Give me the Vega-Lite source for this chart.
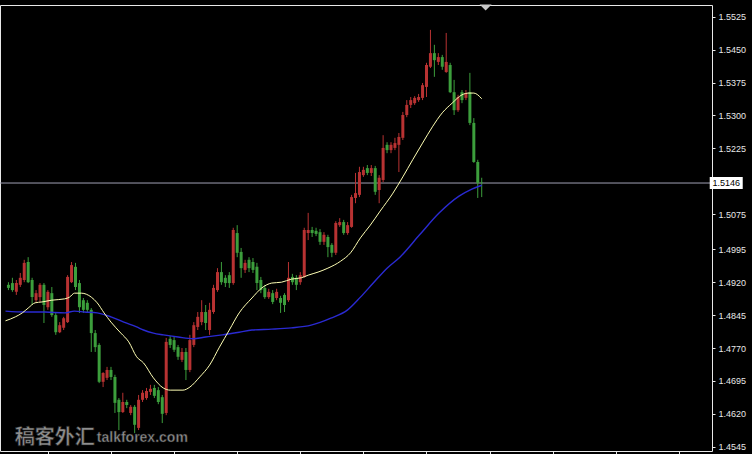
{
  "$schema": "https://vega.github.io/schema/vega-lite/v6.json",
  "width": 712,
  "height": 446,
  "autosize": {"type": "none"},
  "padding": {"left": 0, "top": 5, "right": 40, "bottom": 3},
  "background": "#000000",
  "config": {
    "view": {"stroke": "#e8e8e8", "strokeWidth": 1},
    "axis": {"grid": false, "domain": false, "labelOverlap": false},
    "axisY": {"labelOverlap": false, "labelColor": "#e8e8e8", "labelFont": "Liberation Sans", "labelFontSize": 9, "tickColor": "#e8e8e8", "tickSize": 3, "labelPadding": 3},
    "axisX": {"labels": false, "tickColor": "#e8e8e8", "tickSize": 3}
  },
  "datasets": {
    "candles": [
      {"i":0,"o":1.4914,"h":1.4920,"l":1.4902,"c":1.4907},
      {"i":1,"o":1.4918,"h":1.4930,"l":1.4898,"c":1.4902},
      {"i":2,"o":1.4898,"h":1.4925,"l":1.4891,"c":1.4918},
      {"i":3,"o":1.4914,"h":1.4941,"l":1.4909,"c":1.4930},
      {"i":4,"o":1.4925,"h":1.4971,"l":1.4920,"c":1.4964},
      {"i":5,"o":1.4966,"h":1.4977,"l":1.4918,"c":1.4920},
      {"i":6,"o":1.4925,"h":1.4930,"l":1.4868,"c":1.4886},
      {"i":7,"o":1.4879,"h":1.4902,"l":1.4875,"c":1.4895},
      {"i":8,"o":1.4886,"h":1.4918,"l":1.4875,"c":1.4914},
      {"i":9,"o":1.4914,"h":1.4918,"l":1.4827,"c":1.4868},
      {"i":10,"o":1.4863,"h":1.4902,"l":1.4857,"c":1.4898},
      {"i":11,"o":1.4895,"h":1.4909,"l":1.4841,"c":1.4845},
      {"i":12,"o":1.4845,"h":1.4850,"l":1.4800,"c":1.4806},
      {"i":13,"o":1.4806,"h":1.4829,"l":1.4804,"c":1.4822},
      {"i":14,"o":1.4816,"h":1.4841,"l":1.4811,"c":1.4838},
      {"i":15,"o":1.4829,"h":1.4936,"l":1.4827,"c":1.4932},
      {"i":16,"o":1.4920,"h":1.4966,"l":1.4918,"c":1.4959},
      {"i":17,"o":1.4955,"h":1.4964,"l":1.4902,"c":1.4909},
      {"i":18,"o":1.4918,"h":1.4925,"l":1.4850,"c":1.4863},
      {"i":19,"o":1.4879,"h":1.4884,"l":1.4850,"c":1.4857},
      {"i":20,"o":1.4873,"h":1.4879,"l":1.4850,"c":1.4857},
      {"i":21,"o":1.4857,"h":1.4861,"l":1.4761,"c":1.4804},
      {"i":22,"o":1.4804,"h":1.4811,"l":1.4761,"c":1.4772},
      {"i":23,"o":1.4777,"h":1.4781,"l":1.4690,"c":1.4693},
      {"i":24,"o":1.4693,"h":1.4715,"l":1.4681,"c":1.4713},
      {"i":25,"o":1.4702,"h":1.4727,"l":1.4697,"c":1.4720},
      {"i":26,"o":1.4720,"h":1.4727,"l":1.4697,"c":1.4704},
      {"i":27,"o":1.4704,"h":1.4709,"l":1.4622,"c":1.4645},
      {"i":28,"o":1.4652,"h":1.4656,"l":1.4583,"c":1.4624},
      {"i":29,"o":1.4624,"h":1.4668,"l":1.4622,"c":1.4647},
      {"i":30,"o":1.4647,"h":1.4652,"l":1.4633,"c":1.4640},
      {"i":31,"o":1.4622,"h":1.4640,"l":1.4617,"c":1.4636},
      {"i":32,"o":1.4636,"h":1.4640,"l":1.4576,"c":1.4595},
      {"i":33,"o":1.4588,"h":1.4663,"l":1.4583,"c":1.4652},
      {"i":34,"o":1.4652,"h":1.4674,"l":1.4647,"c":1.4668},
      {"i":35,"o":1.4656,"h":1.4679,"l":1.4652,"c":1.4672},
      {"i":36,"o":1.4670,"h":1.4686,"l":1.4663,"c":1.4677},
      {"i":37,"o":1.4679,"h":1.4686,"l":1.4656,"c":1.4661},
      {"i":38,"o":1.4674,"h":1.4681,"l":1.4642,"c":1.4647},
      {"i":39,"o":1.4658,"h":1.4663,"l":1.4599,"c":1.4620},
      {"i":40,"o":1.4622,"h":1.4793,"l":1.4617,"c":1.4784},
      {"i":41,"o":1.4791,"h":1.4797,"l":1.4770,"c":1.4777},
      {"i":42,"o":1.4788,"h":1.4795,"l":1.4761,"c":1.4766},
      {"i":43,"o":1.4772,"h":1.4777,"l":1.4743,"c":1.4750},
      {"i":44,"o":1.4743,"h":1.4770,"l":1.4738,"c":1.4761},
      {"i":45,"o":1.4761,"h":1.4770,"l":1.4697,"c":1.4720},
      {"i":46,"o":1.4720,"h":1.4800,"l":1.4715,"c":1.4788},
      {"i":47,"o":1.4777,"h":1.4829,"l":1.4772,"c":1.4822},
      {"i":48,"o":1.4818,"h":1.4852,"l":1.4811,"c":1.4841},
      {"i":49,"o":1.4829,"h":1.4879,"l":1.4822,"c":1.4852},
      {"i":50,"o":1.4852,"h":1.4868,"l":1.4811,"c":1.4827},
      {"i":51,"o":1.4811,"h":1.4873,"l":1.4800,"c":1.4857},
      {"i":52,"o":1.4852,"h":1.4914,"l":1.4848,"c":1.4907},
      {"i":53,"o":1.4902,"h":1.4952,"l":1.4898,"c":1.4943},
      {"i":54,"o":1.4943,"h":1.4966,"l":1.4914,"c":1.4920},
      {"i":55,"o":1.4930,"h":1.4936,"l":1.4909,"c":1.4918},
      {"i":56,"o":1.4936,"h":1.4943,"l":1.4907,"c":1.4918},
      {"i":57,"o":1.4918,"h":1.5044,"l":1.4914,"c":1.5039},
      {"i":58,"o":1.5032,"h":1.5050,"l":1.4977,"c":1.4987},
      {"i":59,"o":1.4989,"h":1.4998,"l":1.4930,"c":1.4952},
      {"i":60,"o":1.4948,"h":1.4971,"l":1.4941,"c":1.4964},
      {"i":61,"o":1.4971,"h":1.4977,"l":1.4943,"c":1.4952},
      {"i":62,"o":1.4966,"h":1.4975,"l":1.4941,"c":1.4948},
      {"i":63,"o":1.4955,"h":1.4964,"l":1.4902,"c":1.4918},
      {"i":64,"o":1.4925,"h":1.4932,"l":1.4895,"c":1.4902},
      {"i":65,"o":1.4907,"h":1.4914,"l":1.4882,"c":1.4886},
      {"i":66,"o":1.4886,"h":1.4905,"l":1.4882,"c":1.4898},
      {"i":67,"o":1.4895,"h":1.4902,"l":1.4870,"c":1.4875},
      {"i":68,"o":1.4884,"h":1.4905,"l":1.4879,"c":1.4898},
      {"i":69,"o":1.4884,"h":1.4889,"l":1.4850,"c":1.4873},
      {"i":70,"o":1.4891,"h":1.4895,"l":1.4852,"c":1.4868},
      {"i":71,"o":1.4879,"h":1.4966,"l":1.4875,"c":1.4930},
      {"i":72,"o":1.4932,"h":1.4939,"l":1.4914,"c":1.4920},
      {"i":73,"o":1.4930,"h":1.4936,"l":1.4902,"c":1.4914},
      {"i":74,"o":1.4920,"h":1.4943,"l":1.4914,"c":1.4936},
      {"i":75,"o":1.4932,"h":1.5044,"l":1.4930,"c":1.5039},
      {"i":76,"o":1.5032,"h":1.5078,"l":1.5016,"c":1.5039},
      {"i":77,"o":1.5039,"h":1.5046,"l":1.5023,"c":1.5032},
      {"i":78,"o":1.5037,"h":1.5044,"l":1.5025,"c":1.5030},
      {"i":79,"o":1.5034,"h":1.5041,"l":1.5005,"c":1.5012},
      {"i":80,"o":1.5012,"h":1.5034,"l":1.5005,"c":1.5028},
      {"i":81,"o":1.5023,"h":1.5028,"l":1.4977,"c":1.5000},
      {"i":82,"o":1.5005,"h":1.5009,"l":1.4977,"c":1.4987},
      {"i":83,"o":1.4987,"h":1.5059,"l":1.4982,"c":1.5055},
      {"i":84,"o":1.5050,"h":1.5066,"l":1.5046,"c":1.5057},
      {"i":85,"o":1.5057,"h":1.5062,"l":1.5028,"c":1.5032},
      {"i":86,"o":1.5032,"h":1.5057,"l":1.5028,"c":1.5050},
      {"i":87,"o":1.5046,"h":1.5119,"l":1.5044,"c":1.5114},
      {"i":88,"o":1.5112,"h":1.5169,"l":1.5100,"c":1.5123},
      {"i":89,"o":1.5119,"h":1.5183,"l":1.5114,"c":1.5171},
      {"i":90,"o":1.5164,"h":1.5183,"l":1.5160,"c":1.5176},
      {"i":91,"o":1.5180,"h":1.5187,"l":1.5164,"c":1.5169},
      {"i":92,"o":1.5169,"h":1.5187,"l":1.5162,"c":1.5180},
      {"i":93,"o":1.5180,"h":1.5185,"l":1.5119,"c":1.5126},
      {"i":94,"o":1.5130,"h":1.5164,"l":1.5100,"c":1.5158},
      {"i":95,"o":1.5153,"h":1.5255,"l":1.5148,"c":1.5226},
      {"i":96,"o":1.5233,"h":1.5239,"l":1.5214,"c":1.5221},
      {"i":97,"o":1.5221,"h":1.5239,"l":1.5214,"c":1.5233},
      {"i":98,"o":1.5226,"h":1.5249,"l":1.5221,"c":1.5237},
      {"i":99,"o":1.5233,"h":1.5260,"l":1.5171,"c":1.5251},
      {"i":100,"o":1.5249,"h":1.5308,"l":1.5244,"c":1.5301},
      {"i":101,"o":1.5301,"h":1.5335,"l":1.5296,"c":1.5324},
      {"i":102,"o":1.5324,"h":1.5342,"l":1.5317,"c":1.5335},
      {"i":103,"o":1.5328,"h":1.5344,"l":1.5324,"c":1.5340},
      {"i":104,"o":1.5335,"h":1.5349,"l":1.5331,"c":1.5342},
      {"i":105,"o":1.5340,"h":1.5374,"l":1.5335,"c":1.5369},
      {"i":106,"o":1.5365,"h":1.5420,"l":1.5342,"c":1.5415},
      {"i":107,"o":1.5411,"h":1.5495,"l":1.5408,"c":1.5442},
      {"i":108,"o":1.5442,"h":1.5461,"l":1.5388,"c":1.5426},
      {"i":109,"o":1.5422,"h":1.5442,"l":1.5415,"c":1.5433},
      {"i":110,"o":1.5433,"h":1.5438,"l":1.5404,"c":1.5411},
      {"i":111,"o":1.5399,"h":1.5488,"l":1.5397,"c":1.5422},
      {"i":112,"o":1.5415,"h":1.5420,"l":1.5351,"c":1.5353},
      {"i":113,"o":1.5353,"h":1.5381,"l":1.5301,"c":1.5312},
      {"i":114,"o":1.5312,"h":1.5347,"l":1.5308,"c":1.5342},
      {"i":115,"o":1.5353,"h":1.5358,"l":1.5328,"c":1.5335},
      {"i":116,"o":1.5340,"h":1.5358,"l":1.5335,"c":1.5351},
      {"i":117,"o":1.5353,"h":1.5397,"l":1.5278,"c":1.5283},
      {"i":118,"o":1.5283,"h":1.5294,"l":1.5192,"c":1.5194},
      {"i":119,"o":1.5194,"h":1.5199,"l":1.5112,"c":1.5146},
      {"i":120,"o":1.5147,"h":1.5158,"l":1.5114,"c":1.5146}
    ],
    "maFast": [
      {"i":-0.75,"v":1.4832},{"i":1.75,"v":1.4841},{"i":3.5,"v":1.4850},{"i":5,"v":1.4861},
      {"i":6.75,"v":1.4873},{"i":8.5,"v":1.4875},{"i":11,"v":1.4879},{"i":14.25,"v":1.4882},
      {"i":15.5,"v":1.4886},{"i":16.75,"v":1.4895},{"i":18.5,"v":1.4895},{"i":21,"v":1.4886},
      {"i":22.5,"v":1.4873},{"i":24.25,"v":1.4850},{"i":26,"v":1.4829},{"i":28.5,"v":1.4804},
      {"i":30.5,"v":1.4784},{"i":32.5,"v":1.4750},{"i":34.25,"v":1.4736},{"i":36.75,"v":1.4702},
      {"i":39.25,"v":1.4679},{"i":41,"v":1.4674},{"i":44.25,"v":1.4674},{"i":46,"v":1.4681},
      {"i":48.5,"v":1.4704},{"i":51,"v":1.4731},{"i":53.5,"v":1.4772},{"i":56,"v":1.4811},
      {"i":58.5,"v":1.4850},{"i":61.75,"v":1.4884},{"i":64.25,"v":1.4907},{"i":66.75,"v":1.4918},
      {"i":69.25,"v":1.4920},{"i":71.75,"v":1.4927},{"i":74.25,"v":1.4930},{"i":76,"v":1.4936},
      {"i":78.5,"v":1.4943},{"i":81,"v":1.4952},{"i":84.25,"v":1.4968},{"i":86.75,"v":1.4987},
      {"i":89.25,"v":1.5021},{"i":91.75,"v":1.5050},{"i":94.25,"v":1.5082},{"i":97.5,"v":1.5123},
      {"i":100,"v":1.5160},{"i":102.5,"v":1.5199},{"i":105,"v":1.5237},{"i":107.5,"v":1.5274},
      {"i":110,"v":1.5306},{"i":112.5,"v":1.5328},{"i":115,"v":1.5347},{"i":116.75,"v":1.5351},
      {"i":118,"v":1.5351},{"i":120,"v":1.5338}
    ],
    "maSlow": [
      {"i":-0.75,"v":1.4854},{"i":4.25,"v":1.4852},{"i":9.25,"v":1.4852},{"i":14.25,"v":1.4850},
      {"i":16.75,"v":1.4854},{"i":19.25,"v":1.4852},{"i":22.5,"v":1.4850},{"i":26,"v":1.4841},
      {"i":29.25,"v":1.4829},{"i":32.5,"v":1.4818},{"i":34.25,"v":1.4811},{"i":36.75,"v":1.4804},
      {"i":39.25,"v":1.4800},{"i":43,"v":1.4795},{"i":46.75,"v":1.4791},{"i":50,"v":1.4795},
      {"i":54.25,"v":1.4800},{"i":58.5,"v":1.4806},{"i":61.75,"v":1.4811},{"i":66.75,"v":1.4813},
      {"i":71.75,"v":1.4816},{"i":76.75,"v":1.4822},{"i":81.75,"v":1.4838},{"i":86,"v":1.4857},
      {"i":89.25,"v":1.4886},{"i":92.5,"v":1.4918},{"i":96,"v":1.4952},{"i":99.25,"v":1.4977},
      {"i":104.25,"v":1.5028},{"i":109.25,"v":1.5078},{"i":114.25,"v":1.5116},{"i":117.5,"v":1.5132},
      {"i":120,"v":1.5141}
    ],
    "price": [{"p": 1.5146, "label": "1.5146"}],
    "marks": [{"name": "稿客外汇", "site": "talkforex.com"}]
  },
  "encoding": {
    "x": {"type": "quantitative", "title": null,
          "scale": {"domain": [-0.875, 177.125], "nice": false, "zero": false},
          "axis": {"orient": "bottom", "values": [10, 26, 42, 58, 74, 90, 106, 122, 138, 154, 170], "labels": false, "labelOverlap": false, "title": null}},
    "y": {"type": "quantitative", "title": null,
          "scale": {"domain": [1.45353, 1.55517], "nice": false, "zero": false},
          "axis": {"orient": "right", "values": [1.4545, 1.462, 1.4695, 1.477, 1.4845, 1.492, 1.4995, 1.5075, 1.5225, 1.53, 1.5375, 1.545, 1.5525],
                   "format": ".4f", "labelOverlap": false, "labelSeparation": 0, "title": null}}
  },
  "layer": [
    {
      "data": {"name": "price"},
      "mark": {"type": "rule", "color": "#a0a0b4", "strokeWidth": 1},
      "encoding": {
        "y": {"field": "p", "type": "quantitative", "title": null,
              "scale": {"domain": [1.45353, 1.55517], "nice": false, "zero": false},
              "axis": {"orient": "right", "values": [1.4545, 1.462, 1.4695, 1.477, 1.4845, 1.492, 1.4995, 1.5075, 1.5225, 1.53, 1.5375, 1.545, 1.5525],
                       "format": ".4f", "labelOverlap": false, "labelSeparation": 0, "title": null}}
      }
    },
    {
      "data": {"name": "candles"},
      "mark": {"type": "rule", "strokeWidth": 1},
      "encoding": {
        "x": {"field": "i", "type": "quantitative", "title": null,
              "scale": {"domain": [-0.875, 177.125], "nice": false, "zero": false},
              "axis": {"orient": "bottom", "values": [10, 26, 42, 58, 74, 90, 106, 122, 138, 154, 170], "labels": false, "labelOverlap": false, "title": null}},
        "y": {"field": "l", "type": "quantitative", "title": null,
              "scale": {"domain": [1.45353, 1.55517], "nice": false, "zero": false},
              "axis": {"orient": "right", "values": [1.4545, 1.462, 1.4695, 1.477, 1.4845, 1.492, 1.4995, 1.5075, 1.5225, 1.53, 1.5375, 1.545, 1.5525],
                       "format": ".4f", "labelOverlap": false, "labelSeparation": 0, "title": null}},
        "y2": {"field": "h"},
        "color": {"condition": {"test": "datum.c >= datum.o", "value": "#b83232"}, "value": "#3c9e3c"}
      }
    },
    {
      "data": {"name": "candles"},
      "mark": {"type": "bar", "size": 3},
      "encoding": {
        "x": {"field": "i", "type": "quantitative"},
        "y": {"field": "o", "type": "quantitative"},
        "y2": {"field": "c"},
        "color": {"condition": {"test": "datum.c >= datum.o", "value": "#b83232"}, "value": "#3c9e3c"}
      }
    },
    {
      "data": {"name": "maSlow"},
      "mark": {"type": "line", "color": "#2a2ad2", "strokeWidth": 1.4, "interpolate": "monotone"},
      "encoding": {
        "x": {"field": "i", "type": "quantitative"},
        "y": {"field": "v", "type": "quantitative"}
      }
    },
    {
      "data": {"name": "maFast"},
      "mark": {"type": "line", "color": "#ffffb4", "strokeWidth": 1, "interpolate": "monotone"},
      "encoding": {
        "x": {"field": "i", "type": "quantitative"},
        "y": {"field": "v", "type": "quantitative"}
      }
    },
    {
      "data": {"name": "price"},
      "mark": {"type": "point", "shape": "M-1,-0.36H1V0.36H-1Z", "size": 1089, "filled": true, "color": "#ffffff", "opacity": 1},
      "encoding": {
        "x": {"datum": 182, "type": "quantitative"},
        "y": {"field": "p", "type": "quantitative"}
      }
    },
    {
      "data": {"name": "price"},
      "mark": {"type": "text", "color": "#000000", "font": "Liberation Sans", "fontSize": 9, "align": "center", "baseline": "middle"},
      "encoding": {
        "x": {"datum": 182, "type": "quantitative"},
        "y": {"field": "p", "type": "quantitative"},
        "text": {"field": "label"}
      }
    },
    {
      "data": {"name": "price"},
      "mark": {"type": "point", "shape": "M-1,-0.5L1,-0.5L0,0.5Z", "size": 144, "filled": true, "color": "#c8c8c8", "opacity": 1},
      "encoding": {
        "x": {"datum": 121, "type": "quantitative"},
        "y": {"datum": 1.5546, "type": "quantitative"}
      }
    },
    {
      "data": {"name": "marks"},
      "mark": {"type": "text", "color": "#8e8e8e", "stroke": "#1e1e1e", "strokeWidth": 0.6, "font": "Noto Sans CJK SC", "fontWeight": "bold", "fontSize": 20, "align": "left", "baseline": "middle"},
      "encoding": {
        "x": {"datum": 1.6, "type": "quantitative"},
        "y": {"datum": 1.4564, "type": "quantitative"},
        "text": {"field": "name"}
      }
    },
    {
      "data": {"name": "marks"},
      "mark": {"type": "text", "color": "#8e8e8e", "stroke": "#1e1e1e", "strokeWidth": 0.5, "font": "Liberation Sans", "fontWeight": "bold", "fontSize": 14, "align": "left", "baseline": "middle"},
      "encoding": {
        "x": {"datum": 22.4, "type": "quantitative"},
        "y": {"datum": 1.4564, "type": "quantitative"},
        "text": {"field": "site"}
      }
    }
  ]
}
